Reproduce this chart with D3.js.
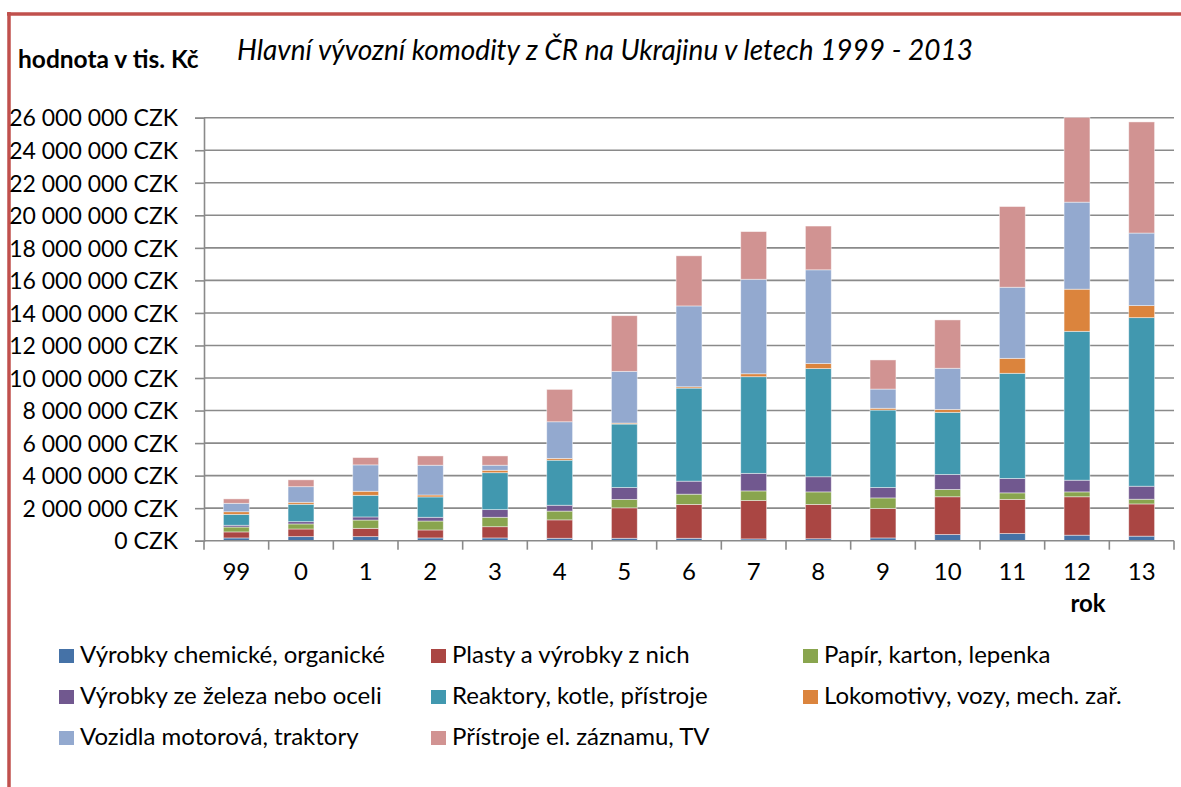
<!DOCTYPE html>
<html>
<head>
<meta charset="utf-8">
<script src="https://cdn.jsdelivr.net/npm/d3@7"></script>
<style>
  html, body { margin: 0; padding: 0; background: #fff; }
  svg { display: block; }
  text { font-family: Lato, "Open Sans", sans-serif; fill: #000; }
</style>
</head>
<body>
<svg id="chart" width="1181" height="787"></svg>
<script>
// ---- Data (values in tis. Kč) ----
const categories = ["99", "0", "1", "2", "3", "4", "5", "6", "7", "8", "9", "10", "11", "12", "13"];
const seriesNames = [
  "Výrobky chemické, organické",
  "Plasty a výrobky z nich",
  "Papír, karton, lepenka",
  "Výrobky ze železa nebo oceli",
  "Reaktory, kotle, přístroje",
  "Lokomotivy, vozy, mech. zař.",
  "Vozidla motorová, traktory",
  "Přístroje el. záznamu, TV"
];
const chem     = [170000, 250000, 250000, 170000, 170000, 150000, 150000, 150000, 110000, 120000, 170000, 380000, 440000, 340000, 280000];
const plast    = [370000, 470000, 510000, 490000, 690000, 1130000, 1870000, 2080000, 2360000, 2110000, 1810000, 2320000, 2100000, 2360000, 1980000];
const paper    = [300000, 310000, 510000, 550000, 580000, 540000, 520000, 630000, 590000, 770000, 650000, 450000, 400000, 300000, 290000];
const iron     = [110000, 140000, 190000, 230000, 470000, 360000, 730000, 800000, 1080000, 930000, 640000, 920000, 890000, 720000, 800000];
const reactors = [670000, 1070000, 1330000, 1250000, 2270000, 2770000, 3900000, 5720000, 5940000, 6650000, 4760000, 3820000, 6460000, 9150000, 10360000];
const loco     = [160000, 120000, 250000, 120000, 150000, 110000, 60000, 80000, 180000, 310000, 110000, 180000, 920000, 2590000, 740000];
const vehicles = [520000, 960000, 1620000, 1830000, 310000, 2250000, 3180000, 4970000, 5810000, 5760000, 1180000, 2530000, 4370000, 5350000, 4460000];
const tv       = [270000, 420000, 450000, 570000, 570000, 1990000, 3420000, 3080000, 2930000, 2690000, 1790000, 2970000, 4960000, 5210000, 6830000];
const yTicks = [0, 2000000, 4000000, 6000000, 8000000, 10000000, 12000000, 14000000, 16000000, 18000000, 20000000, 22000000, 24000000, 26000000];

const titleText = "Hlavní vývozní komodity z ČR na Ukrajinu v letech 1999 - 2013";
const yTitle = "hodnota v tis. Kč";
const xTitle = "rok";

// ---- Styles ----
const colors = ["#4572A7", "#AA4643", "#89A54E", "#71588F", "#4198AF", "#DB843D", "#93A9CF", "#D19392"];
const gridColor = "#8a8a8a";
const borderColor = "#C0504D";

const seriesValues = [chem, plast, paper, iron, reactors, loco, vehicles, tv];
const table = categories.map((c, i) => {
  const row = { cat: c };
  seriesNames.forEach((n, k) => row[n] = seriesValues[k][i]);
  return row;
});

const svg = d3.select("#chart");

// border (chart frame)
svg.append("line").attr("x1", 9).attr("x2", 9).attr("y1", 12).attr("y2", 787)
  .attr("stroke", borderColor).attr("stroke-width", 3.5);
svg.append("line").attr("x1", 7).attr("x2", 1181).attr("y1", 14).attr("y2", 14)
  .attr("stroke", borderColor).attr("stroke-width", 3.5);

const plotLeft = 204, plotRight = 1174, plotTop = 117.7, plotBottom = 540.7;

const x = d3.scaleBand().domain(categories).range([plotLeft, plotRight])
  .paddingInner(0.6).paddingOuter(0.3);
const y = d3.scaleLinear().domain([0, 26000000]).range([plotBottom, plotTop]);

const locale = d3.formatLocale({ decimal: ",", thousands: " ", grouping: [3], currency: ["", " CZK"] });
const fmt = locale.format("$,");

// gridlines
svg.append("g").selectAll("line").data(yTicks.filter(d => d > 0)).join("line")
  .attr("x1", plotLeft).attr("x2", plotRight)
  .attr("y1", d => y(d)).attr("y2", d => y(d))
  .attr("stroke", gridColor).attr("stroke-width", 1.6);

// y axis
const yAxis = d3.axisLeft(y).tickValues(yTicks).tickFormat(fmt).tickSize(9).tickPadding(17);
const gy = svg.append("g").attr("transform", `translate(${plotLeft},0)`).call(yAxis);
gy.select(".domain").attr("stroke", gridColor).attr("stroke-width", 1.6);
gy.selectAll(".tick line").attr("stroke", gridColor).attr("stroke-width", 1.6);
gy.selectAll(".tick text").attr("font-family", "Lato").attr("font-size", 23).attr("fill", "#000")
  .attr("dy", "0.36em");

// bars
const stack = d3.stack().keys(seriesNames);
const stacked = stack(table);
svg.append("g").selectAll("g").data(stacked).join("g")
  .attr("fill", (d, i) => colors[i])
  .selectAll("rect").data(d => d).join("rect")
  .attr("x", d => x(d.data.cat))
  .attr("width", x.bandwidth())
  .attr("y", d => y(d[1]))
  .attr("height", d => Math.max(0, y(d[0]) - y(d[1])))
  .attr("stroke", "rgba(255,255,255,0.55)").attr("stroke-width", 0.8);

// x axis
const step = x.step();
const gap = step - x.bandwidth();
const boundaries = categories.map(c => x(c) - gap / 2).concat([x(categories[categories.length - 1]) + x.bandwidth() + gap / 2]);
svg.append("line").attr("x1", plotLeft).attr("x2", plotRight).attr("y1", plotBottom).attr("y2", plotBottom)
  .attr("stroke", gridColor).attr("stroke-width", 1.6);
svg.append("g").selectAll("line").data(boundaries).join("line")
  .attr("x1", d => d).attr("x2", d => d).attr("y1", plotBottom).attr("y2", plotBottom + 9)
  .attr("stroke", gridColor).attr("stroke-width", 1.6);
svg.append("g").selectAll("text").data(categories).join("text")
  .attr("x", d => x(d) + x.bandwidth() / 2).attr("y", 580)
  .attr("text-anchor", "middle").attr("font-size", 24).text(d => d);

// titles
svg.append("text").attr("x", 237).attr("y", 60).attr("font-size", 28).attr("font-style", "italic").text(titleText);
svg.append("text").attr("x", 18).attr("y", 68).attr("font-size", 24.5).attr("font-weight", "bold").text(yTitle);
svg.append("text").attr("x", 1088).attr("y", 612).attr("text-anchor", "middle").attr("font-size", 24).attr("font-weight", "bold").text(xTitle);

// legend
const legCols = [59, 431, 803];
const legRows = [663, 704, 745];
const lg = svg.append("g").selectAll("g").data(seriesNames).join("g")
  .attr("transform", (d, i) => `translate(${legCols[i % 3]},${legRows[Math.floor(i / 3)]})`);
lg.append("rect").attr("x", 0).attr("y", -14).attr("width", 15).attr("height", 14).attr("fill", (d, i) => colors[i]);
lg.append("text").attr("x", 21).attr("y", 0).attr("font-size", 24).text(d => d);
</script>
</body>
</html>
